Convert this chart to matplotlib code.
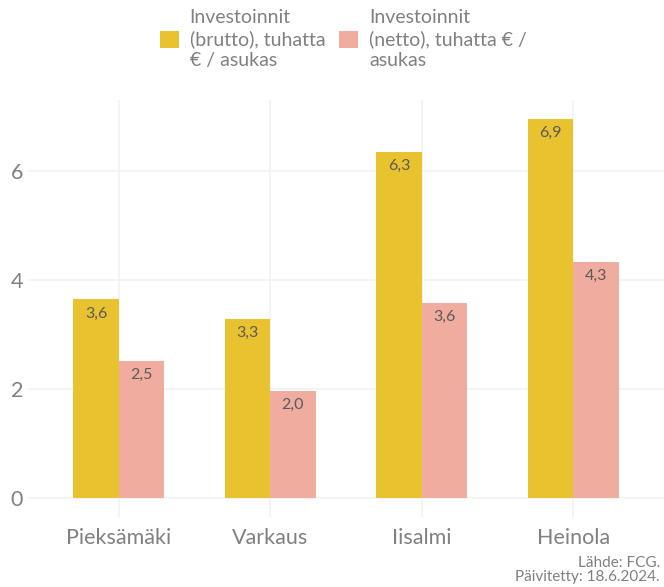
import matplotlib.pyplot as plt
import numpy as np
from matplotlib.patches import Patch

plt.rcParams['font.family'] = ['Lato', 'DejaVu Sans']

# Investoinnit kunnittain
kunnat = ['Pieksämäki', 'Varkaus', 'Iisalmi', 'Heinola']
brutto = [3.64, 3.29, 6.35, 6.94]
netto = [2.52, 1.96, 3.57, 4.33]

sarjat = ['Investoinnit\n(brutto), tuhatta\n€ / asukas',
          'Investoinnit\n(netto), tuhatta € /\nasukas']
varit = ['#E9C22F', '#EFAC9F']
teksti = '#808080'

fig = plt.figure(figsize=(6.64, 5.87), dpi=100)
ax = fig.add_axes([0.042, 0.119, 0.958, 0.711])

x = np.arange(len(kunnat))
w = 0.3
for vals, off, c in [(brutto, -w / 2, varit[0]), (netto, w / 2, varit[1])]:
    ax.bar(x + off, vals, width=w, color=c, zorder=2)
    for xi, v in zip(x + off, vals):
        ax.annotate(f'{v:.1f}'.replace('.', ','), (xi, v), xytext=(0, -5),
                    textcoords='offset points', ha='center', va='top',
                    fontsize=11.5, color='#5a5a5a', zorder=3)

ax.set_xlim(-0.6, 3.6)
ax.set_ylim(-0.35, 7.3)
ax.set_yticks([0, 2, 4, 6])
ax.set_xticks(x)
ax.set_xticklabels(kunnat)
ax.grid(True, color='#F2F2F2', linewidth=1.2, zorder=0)
ax.tick_params(length=0, labelsize=15.5, labelcolor=teksti)
ax.tick_params(axis='x', pad=8)
for s in ax.spines.values():
    s.set_visible(False)

kahvat = [Patch(facecolor=c, edgecolor='none') for c in varit]
leg = fig.legend(kahvat, sarjat, loc='upper center', bbox_to_anchor=(0.517, 1.015),
                 ncol=2, frameon=False, handlelength=1.0, handleheight=1.0,
                 handletextpad=0.55, columnspacing=0.7,
                 prop={'size': 14}, labelcolor=teksti)
for t in leg.get_texts():
    t.set_linespacing(1.3)

fig.text(0.994, 0.029, 'Lähde: FCG.\nPäivitetty: 18.6.2024.', ha='right',
         va='center', fontsize=11, color=teksti, linespacing=1.05)

fig.savefig('out.png', dpi=100)
